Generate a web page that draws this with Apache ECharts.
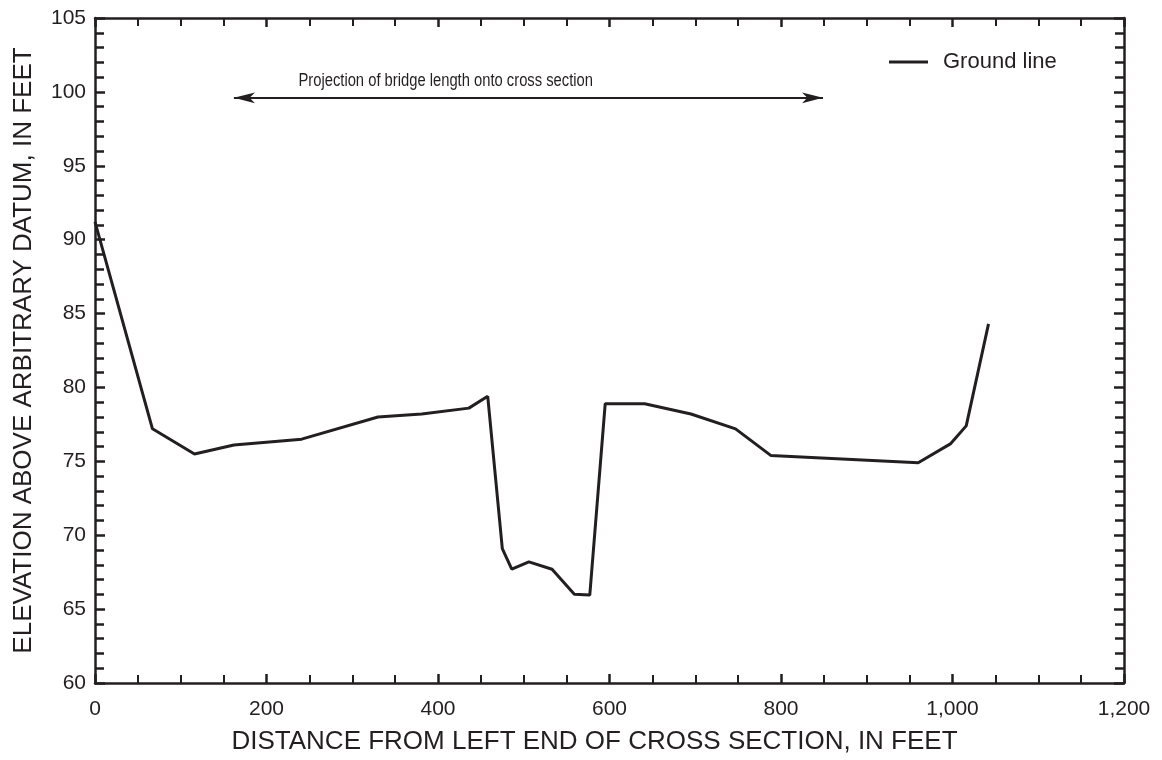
<!DOCTYPE html>
<html><head><meta charset="utf-8">
<script src="https://cdn.jsdelivr.net/npm/echarts@6/dist/echarts.min.js"></script>
<style>html,body{margin:0;padding:0;background:#fff}#c{width:1162px;height:760px}</style>
</head><body><div id="c"></div>
<script>
// ---- data ----
const distance  = [0, 67, 116, 162, 241, 330, 381, 436, 458, 475, 486, 506, 533, 559, 577, 595, 641, 695, 747, 788, 960, 998, 1016, 1042];
const elevation = [91.2, 77.2, 75.5, 76.1, 76.5, 78.0, 78.2, 78.6, 79.4, 69.1, 67.7, 68.2, 67.7, 66.0, 65.95, 78.9, 78.9, 78.2, 77.2, 75.4, 74.9, 76.2, 77.4, 84.3];
const xRange = [0, 1200, 200];
const yRange = [60, 105, 5];
const bridgeProjection = [162, 849];
const bridgeElevation = 99.6;
const seriesName = 'Ground line';
const annotationText = 'Projection of bridge length onto cross section';
const annotationAt = [409, 100.75];
const xTitle = 'DISTANCE FROM LEFT END OF CROSS SECTION, IN FEET';
const yTitle = 'ELEVATION ABOVE ARBITRARY DATUM, IN FEET';

// ---- chart ----
const INK = '#231f20';
const FONT = "'Liberation Sans', Arial, Helvetica, sans-serif";
const chart = echarts.init(document.getElementById('c'), null, {renderer: 'canvas'});

function xAxisCfg(pos, labels) {
  return {
    type: 'value', position: pos, min: xRange[0], max: xRange[1], interval: xRange[2],
    axisLine: {show: true, onZero: false, lineStyle: {color: INK, width: 2.5}},
    axisTick: {show: true, inside: true, length: 9, lineStyle: {color: INK, width: 2.5}},
    minorTick: {show: true, splitNumber: 4, length: 8, lineStyle: {color: INK, width: 2}},
    splitLine: {show: false}, minorSplitLine: {show: false},
    axisLabel: {show: labels, color: INK, fontSize: 21, fontFamily: FONT, margin: 16},
    name: labels ? xTitle : '', nameLocation: 'middle', nameGap: 46, nameMoveOverlap: false,
    nameTextStyle: {color: INK, fontSize: 26, fontFamily: FONT, padding: [0, 30, 0, 0]}
  };
}
function yAxisCfg(pos, labels) {
  return {
    type: 'value', position: pos, min: yRange[0], max: yRange[1], interval: yRange[2],
    axisLine: {show: true, onZero: false, lineStyle: {color: INK, width: 2.5}},
    axisTick: {show: true, inside: true, length: 10, lineStyle: {color: INK, width: 2.5}},
    minorTick: {show: true, splitNumber: 5, length: 9, lineStyle: {color: INK, width: 2.5}},
    splitLine: {show: false}, minorSplitLine: {show: false},
    axisLabel: {show: labels, color: INK, fontSize: 21, fontFamily: FONT, margin: 9},
    name: labels ? yTitle : '', nameLocation: 'middle', nameGap: 58, nameMoveOverlap: false,
    nameTextStyle: {color: INK, fontSize: 26, fontFamily: FONT}
  };
}

chart.setOption({
  animation: false,
  backgroundColor: '#ffffff',
  grid: {left: 95, right: 38, top: 18, bottom: 77, containLabel: false},
  legend: {
    data: [{name: seriesName, icon: 'rect'}], left: 884, top: 46, itemWidth: 39, itemHeight: 3,
    textStyle: {color: INK, fontSize: 22, fontFamily: FONT, padding: [0, 0, 0, 10]}
  },
  xAxis: [xAxisCfg('bottom', true), xAxisCfg('top', false)],
  yAxis: [yAxisCfg('left', true), yAxisCfg('right', false)],
  series: [{
    name: seriesName, type: 'line', xAxisIndex: 0, yAxisIndex: 0,
    data: distance.map((d, i) => [d, elevation[i]]),
    symbol: 'none', lineStyle: {color: INK, width: 3}, itemStyle: {color: INK},
    markLine: {
      silent: true, symbol: ['arrow', 'arrow'], symbolSize: [8, 21],
      label: {show: false},
      lineStyle: {color: INK, width: 2, type: 'solid'},
      data: [[{coord: [bridgeProjection[0], bridgeElevation]}, {coord: [bridgeProjection[1], bridgeElevation]}]]
    }
  }]
});

const p = chart.convertToPixel({xAxisIndex: 0, yAxisIndex: 0}, annotationAt);
chart.setOption({
  graphic: [{
    type: 'text', x: p[0], y: p[1], scaleX: 0.82, silent: true,
    style: {text: annotationText, fill: INK, font: "18px 'Liberation Sans', Arial, sans-serif",
            textAlign: 'center', textVerticalAlign: 'middle'}
  }]
});
</script>
</body></html>
